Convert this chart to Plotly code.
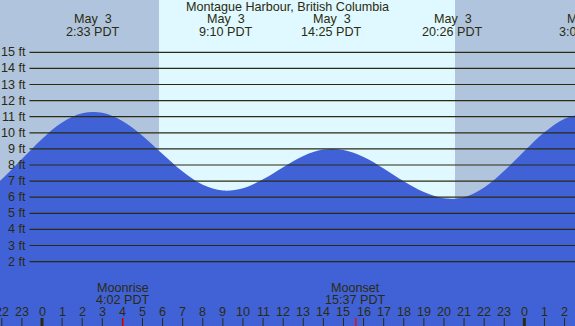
import plotly.graph_objects as go

# ---- data ----
hours = [-3, -2, -1, 0, 1, 2, 3, 4, 5, 6, 7, 8, 9, 10, 11, 12, 13, 14, 15, 16,
         17, 18, 19, 20, 21, 22, 23, 24, 25, 26, 27]
tide_ft = [6.12, 7.12, 8.37, 9.62, 10.64, 11.21, 11.24, 10.74, 9.82, 8.68, 7.59, 6.77,
           6.41, 6.56, 7.11, 7.86, 8.56, 8.96, 8.93, 8.50, 7.79, 6.99, 6.32, 5.94,
           6.00, 6.60, 7.64, 8.87, 10.04, 10.88, 11.20]

event_hours = [2.55, 9.1667, 14.4167, 20.4333, 27.05]
event_dates = ["May \u00a03", "May \u00a03", "May \u00a03", "May \u00a03", "May \u00a04"]
event_times = ["2:33 PDT", "9:10 PDT", "14:25 PDT", "20:26 PDT", "3:03 PDT"]

moon_hours = [4.0333, 15.6167]
moon_names = ["Moonrise", "Moonset"]
moon_times = ["4:02 PDT", "15:37 PDT"]

sunrise, sunset = 5.82, 20.55
feet = list(range(2, 16))
tick_hours = list(range(-2, 27))
tick_labels = [str(h % 24) for h in tick_hours]
title = "Montague Harbour, British Columbia"

# ---- styling ----
W, H = 575, 326
X0, X1 = -2.09, 26.52
Y0, Y1 = -2.0, 18.25
NIGHT = "#b0c4de"
DAY = "#e0f8ff"
FILL = "#4162d6"
INK = "#2b2b0e"
FONT = dict(family="Liberation Sans, Arial, sans-serif", size=12.6, color=INK)


def to_paper_x(h):
    return (h - X0) / (X1 - X0)


def py(p):
    return 1 - p / H


fig = go.Figure()
fig.add_trace(go.Scatter(x=[X0 - 1, X1 + 1], y=[Y0, Y0], mode="lines",
                         line=dict(width=0), hoverinfo="skip", showlegend=False))
fig.add_trace(go.Scatter(x=hours, y=tide_ft, mode="lines", line=dict(width=0, color=FILL, shape="spline"),
                         fill="tonexty", fillcolor=FILL, hoverinfo="skip", showlegend=False))

shapes = [
    dict(type="rect", xref="x", yref="paper", x0=sunrise, x1=sunset, y0=0, y1=1,
         fillcolor=DAY, line=dict(width=0), layer="below"),
]
for f in feet:
    shapes.append(dict(type="line", xref="paper", yref="y", x0=29.5 / W, x1=1, y0=f, y1=f,
                       line=dict(color=INK, width=1.2), layer="above"))
for h in tick_hours:
    wide = (h % 24 == 0)
    shapes.append(dict(type="line", xref="x", yref="paper", x0=h, x1=h, y0=0, y1=8 / H,
                       line=dict(color=INK, width=3 if wide else 1), layer="above"))
for m in moon_hours:
    shapes.append(dict(type="line", xref="x", yref="paper", x0=m, x1=m, y0=0, y1=8 / H,
                       line=dict(color="#ff0000", width=1.3), layer="above"))

ann = [dict(text=title, xref="paper", yref="paper", x=0.5, y=py(7.5), showarrow=False,
            font=FONT, xanchor="center", yanchor="middle")]
for f in feet:
    ann.append(dict(text=f"{f} ft", xref="paper", yref="y", x=28 / W, y=f, showarrow=False,
                    font=FONT, xanchor="right", yanchor="middle"))
for eh, d, t in zip(event_hours, event_dates, event_times):
    for txt, yy in ((d, 19.5), (t, 31.5)):
        ann.append(dict(text=txt, xref="paper", yref="paper", x=to_paper_x(eh), y=py(yy),
                        showarrow=False, font=FONT, xanchor="center", yanchor="middle", borderpad=0))
for mh, n, t in zip(moon_hours, moon_names, moon_times):
    for txt, yy in ((n, 287.5), (t, 299.5)):
        ann.append(dict(text=txt, xref="x", yref="paper", x=mh, y=py(yy), showarrow=False,
                        font=FONT, xanchor="center", yanchor="middle", borderpad=0))
for th, tl in zip(tick_hours, tick_labels):
    ann.append(dict(text=tl, xref="x", yref="paper", x=th, y=py(311.5), showarrow=False,
                    font=FONT, xanchor="center", yanchor="middle", borderpad=0))

fig.update_layout(
    width=W, height=H, margin=dict(l=0, r=0, t=0, b=0),
    paper_bgcolor=NIGHT, plot_bgcolor=NIGHT,
    xaxis=dict(range=[X0, X1], visible=False, fixedrange=True),
    yaxis=dict(range=[Y0, Y1], visible=False, fixedrange=True),
    shapes=shapes, annotations=ann, showlegend=False,
)
fig.write_html("out.html", config={"displayModeBar": False},
               post_script="document.body.style.margin='0px';document.body.style.overflow='hidden';")
